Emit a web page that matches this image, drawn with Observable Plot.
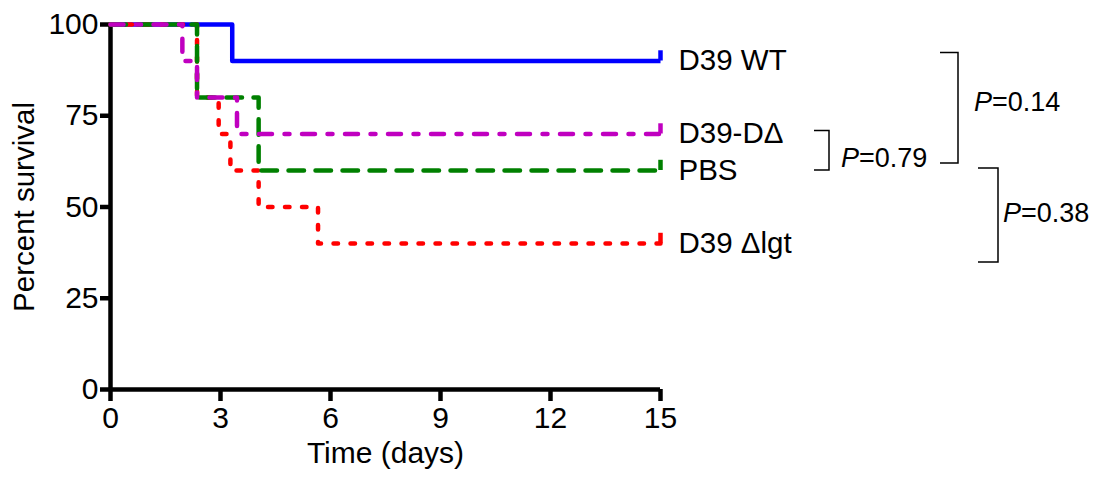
<!DOCTYPE html>
<html><head><meta charset="utf-8">
<script src="https://cdn.jsdelivr.net/npm/d3@7"></script>
<script src="https://cdn.jsdelivr.net/npm/@observablehq/plot@0.6"></script>
<style>body{margin:0;background:#fff;}</style>
</head><body><div id="chart"></div>
<script>
// ---- data ----
const groups = ["D39 WT", "D39-DΔ", "PBS", "D39 Δlgt"];
const groupColors = ["#0000ff", "#c000c0", "#008000", "#ff0000"];
const wtTime = [0, 3.32, 15];
const wtSurv = [100, 90, 90];
const ddTime = [0, 1.96, 2.36, 3.45, 15];
const ddSurv = [100, 90, 80, 70, 70];
const pbsTime = [0, 2.36, 4.04, 15];
const pbsSurv = [100, 80, 60, 60];
const lgtTime = [0, 2.36, 2.95, 3.27, 4.04, 5.66, 15];
const lgtSurv = [100, 80, 70, 60, 50, 40, 40];
const xTicks = [0, 3, 6, 9, 12, 15];
const yTicks = [0, 25, 50, 75, 100];
const compTop = ["D39-DΔ", "D39 WT", "PBS"];
const compBottom = ["PBS", "PBS", "D39 Δlgt"];
const pValues = ["0.79", "0.14", "0.38"];

// ---- build tables ----
const seriesTime = [wtTime, ddTime, pbsTime, lgtTime];
const seriesSurv = [wtSurv, ddSurv, pbsSurv, lgtSurv];
const rows = [];
groups.forEach((g, i) => seriesTime[i].forEach((t, j) => rows.push({group: g, time: t, surv: seriesSurv[i][j], color: groupColors[i]})));
const finals = groups.map((g, i) => ({group: g, time: seriesTime[i][seriesTime[i].length - 1], surv: seriesSurv[i][seriesSurv[i].length - 1], color: groupColors[i]}));
const finalOf = Object.fromEntries(finals.map(d => [d.group, d.surv]));

const dashes = {"D39 WT": null, "D39-DΔ": "13,12.5,5,12.5", "PBS": "15.5,11.5", "D39 Δlgt": "4.5,12.5"};
const drawOrder = ["D39 WT", "D39 Δlgt", "PBS", "D39-DΔ"];
const font = "'Liberation Sans', Arial, sans-serif";

const lineMarks = drawOrder.map(g => Plot.line(rows.filter(d => d.group === g), {
  x: "time", y: "surv", curve: "step-after", stroke: "color", strokeWidth: 4.5,
  strokeDasharray: dashes[g] || undefined,
  strokeLinecap: dashes[g] ? "round" : "butt", strokeLinejoin: "round"
}));

const plot = Plot.plot({
  width: 1099, height: 480,
  marginLeft: 110, marginRight: 439, marginTop: 24, marginBottom: 91,
  style: {fontFamily: font, fontSize: "30px", color: "black", background: "white", overflow: "visible"},
  x: {domain: [0, 15]},
  y: {domain: [0, 100]},
  color: {type: "identity"},
  marks: [
    Plot.axisX({ticks: xTicks, tickSize: 12, tickPadding: 5, strokeWidth: 4.5, label: null}),
    Plot.axisY({ticks: yTicks, tickSize: 10, tickPadding: 2, strokeWidth: 4.5, label: null}),
    Plot.ruleY([0], {strokeWidth: 4.5}),
    Plot.ruleX([0], {strokeWidth: 4.5}),
    ...lineMarks,
    Plot.ruleX(finals, {x: "time", y1: "surv", y2: d => d.surv + 2.8, stroke: "color", strokeWidth: 4.5}),
    Plot.text(finals, {x: "time", y: "surv", text: "group", dx: 18, textAnchor: "start", fontSize: 29.5, fill: "black"}),
    Plot.text(["Time (days)"], {frameAnchor: "bottom", dy: 73, fontSize: 30, fill: "black"}),
    Plot.text(["Percent survival"], {frameAnchor: "left", dx: -86, rotate: -90, textAnchor: "middle", fontSize: 29.5, fill: "black"})
  ]
});

// ---- comparison brackets ----
const xs = plot.scale("x"), ys = plot.scale("y");
const xEnd = xs.apply(15);
const layout = [
  {x0: 154, x1: 169, padTop: -3, padBottom: 0, tx: 181, ty: -12, ref: "bottom"},
  {x0: 280, x1: 298, padTop: -8, padBottom: -7, tx: 314, ty: -6, ref: "mid"},
  {x0: 318, x1: 338, padTop: -2, padBottom: 19, tx: 343, ty: -2, ref: "mid"}
];
const svg = d3.select(plot);
const g = svg.append("g").attr("font-family", font).attr("font-size", 27).attr("text-anchor", "start").attr("fill", "black");
pValues.forEach((p, i) => {
  const L = layout[i];
  const top = ys.apply(finalOf[compTop[i]]) + L.padTop;
  const bottom = ys.apply(finalOf[compBottom[i]]) + L.padBottom;
  const a = xEnd + L.x0, b = xEnd + L.x1;
  g.append("path").attr("d", `M${a},${top}H${b}V${bottom}H${a}`).attr("fill", "none").attr("stroke", "black").attr("stroke-width", 1.5);
  const cy = (L.ref === "bottom" ? bottom : (top + bottom) / 2) + L.ty;
  const t = g.append("text").attr("x", xEnd + L.tx).attr("y", cy).attr("dy", "0.35em").attr("text-anchor", "start");
  t.append("tspan").attr("font-style", "italic").text("P");
  t.append("tspan").text("=" + p);
});

document.getElementById("chart").appendChild(plot);
</script>
</body></html>
